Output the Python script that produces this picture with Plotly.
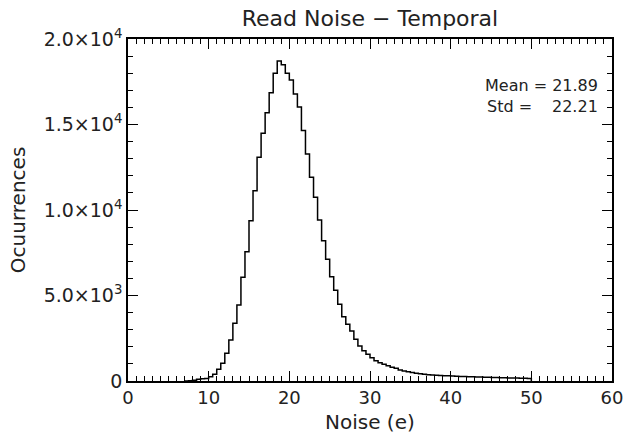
import numpy as np
import plotly.graph_objects as go

# Histogram data: bin starts (width 0.5 e) and counts
bin_width = 0.5
bin_start = np.arange(7.0, 50.0, bin_width)
counts = [
    5, 15, 40, 100, 130, 150,                      # 7.0 - 9.5
    251, 392, 684, 1035, 1620, 2398, 3374, 4444,   # 10.0 - 13.5
    6064, 7561, 9374, 11129, 13082, 14486, 15690, 16850,  # 14.0 - 17.5
    17995, 18714, 18500, 17990, 17600, 16780, 16020, 14650,  # 18.0 - 21.5
    13275, 11912, 10743, 9415, 8205, 7117, 6100, 5300,  # 22.0 - 25.5
    4485, 3761, 3314, 2924, 2437, 2047, 1773, 1559,  # 26.0 - 29.5
    1364, 1189, 1072, 975, 897, 800, 741, 643,       # 30.0 - 33.5
    590, 540, 490, 450, 420, 395, 370, 350,          # 34.0 - 37.5
    335, 320, 310, 300, 290, 280, 270, 260,          # 38.0 - 41.5
    252, 245, 238, 230, 222, 215, 208, 200,          # 42.0 - 45.5
    195, 188, 182, 176, 170, 165, 160, 150,          # 46.0 - 49.5
]

x_ticks = [0, 10, 20, 30, 40, 50, 60]
y_ticks = [0, 5000, 10000, 15000, 20000]
y_ticktext = ["0", "5.0×10<sup>3</sup>", "1.0×10<sup>4</sup>",
              "1.5×10<sup>4</sup>", "2.0×10<sup>4</sup>"]

mean_val = "21.89"
std_val = "22.21"

edges = list(bin_start) + [bin_start[-1] + bin_width]
yvals = list(counts) + [0]

FONT = "DejaVu Sans"
TXT = "#222222"

fig = go.Figure()
fig.add_trace(go.Scatter(
    x=edges, y=yvals, mode="lines",
    line=dict(shape="hv", color="black", width=1.5),
    hoverinfo="skip", showlegend=False,
))

axis_common = dict(
    showline=True, linecolor="black", linewidth=1.5, mirror="allticks",
    ticks="inside", tickcolor="black", tickwidth=1.2,
    showgrid=False, zeroline=False, automargin=False,
    ticklabeloverflow="allow",
)

fig.update_xaxes(
    range=[0, 60], tickvals=x_ticks, ticklen=10,
    tickfont=dict(family=FONT, size=18, color=TXT),
    minor=dict(dtick=1, ticks="inside", ticklen=5, tickcolor="black", tickwidth=1, showgrid=False),
    **axis_common,
)
fig.update_yaxes(
    range=[0, 20000], tickvals=y_ticks, ticktext=y_ticktext, ticklen=10,
    tickfont=dict(family=FONT, size=19, color=TXT),
    minor=dict(dtick=1000, ticks="inside", ticklen=5, tickcolor="black", tickwidth=1, showgrid=False),
    **axis_common,
)

# Axis titles
title_font = dict(family=FONT, size=20, color=TXT)
fig.add_annotation(x=0.5, y=-0.12, xref="paper", yref="paper", text="Noise (e)",
                   showarrow=False, xanchor="center", yanchor="middle", font=title_font)
fig.add_annotation(x=-0.227, y=0.5, xref="paper", yref="paper", text="Ocuurrences",
                   showarrow=False, xanchor="center", yanchor="middle", textangle=-90,
                   font=title_font)

ann_font = dict(family=FONT, size=16, color=TXT)
fig.add_annotation(x=0.976, y=0.8626, xref="paper", yref="paper", text="Mean = " + mean_val,
                   showarrow=False, xanchor="right", yanchor="middle", font=ann_font)
fig.add_annotation(x=0.738, y=0.804, xref="paper", yref="paper", text="Std =",
                   showarrow=False, xanchor="left", yanchor="middle", font=ann_font)
fig.add_annotation(x=0.976, y=0.804, xref="paper", yref="paper", text=std_val,
                   showarrow=False, xanchor="right", yanchor="middle", font=ann_font)

fig.update_layout(
    width=624, height=440,
    margin=dict(l=128, r=12, t=39, b=59, autoexpand=False),
    paper_bgcolor="white", plot_bgcolor="white",
    title=dict(text="Read Noise − Temporal", x=370 / 624, xanchor="center",
               y=1 - 18 / 440, yanchor="middle", yref="container",
               font=dict(family=FONT, size=22, color=TXT)),
)

# Remove the default page margin so the figure sits at the window's origin,
# and hide the mode bar.
fig.write_html("out.html", config={"displayModeBar": False},
               post_script="document.body.style.margin='0';")
